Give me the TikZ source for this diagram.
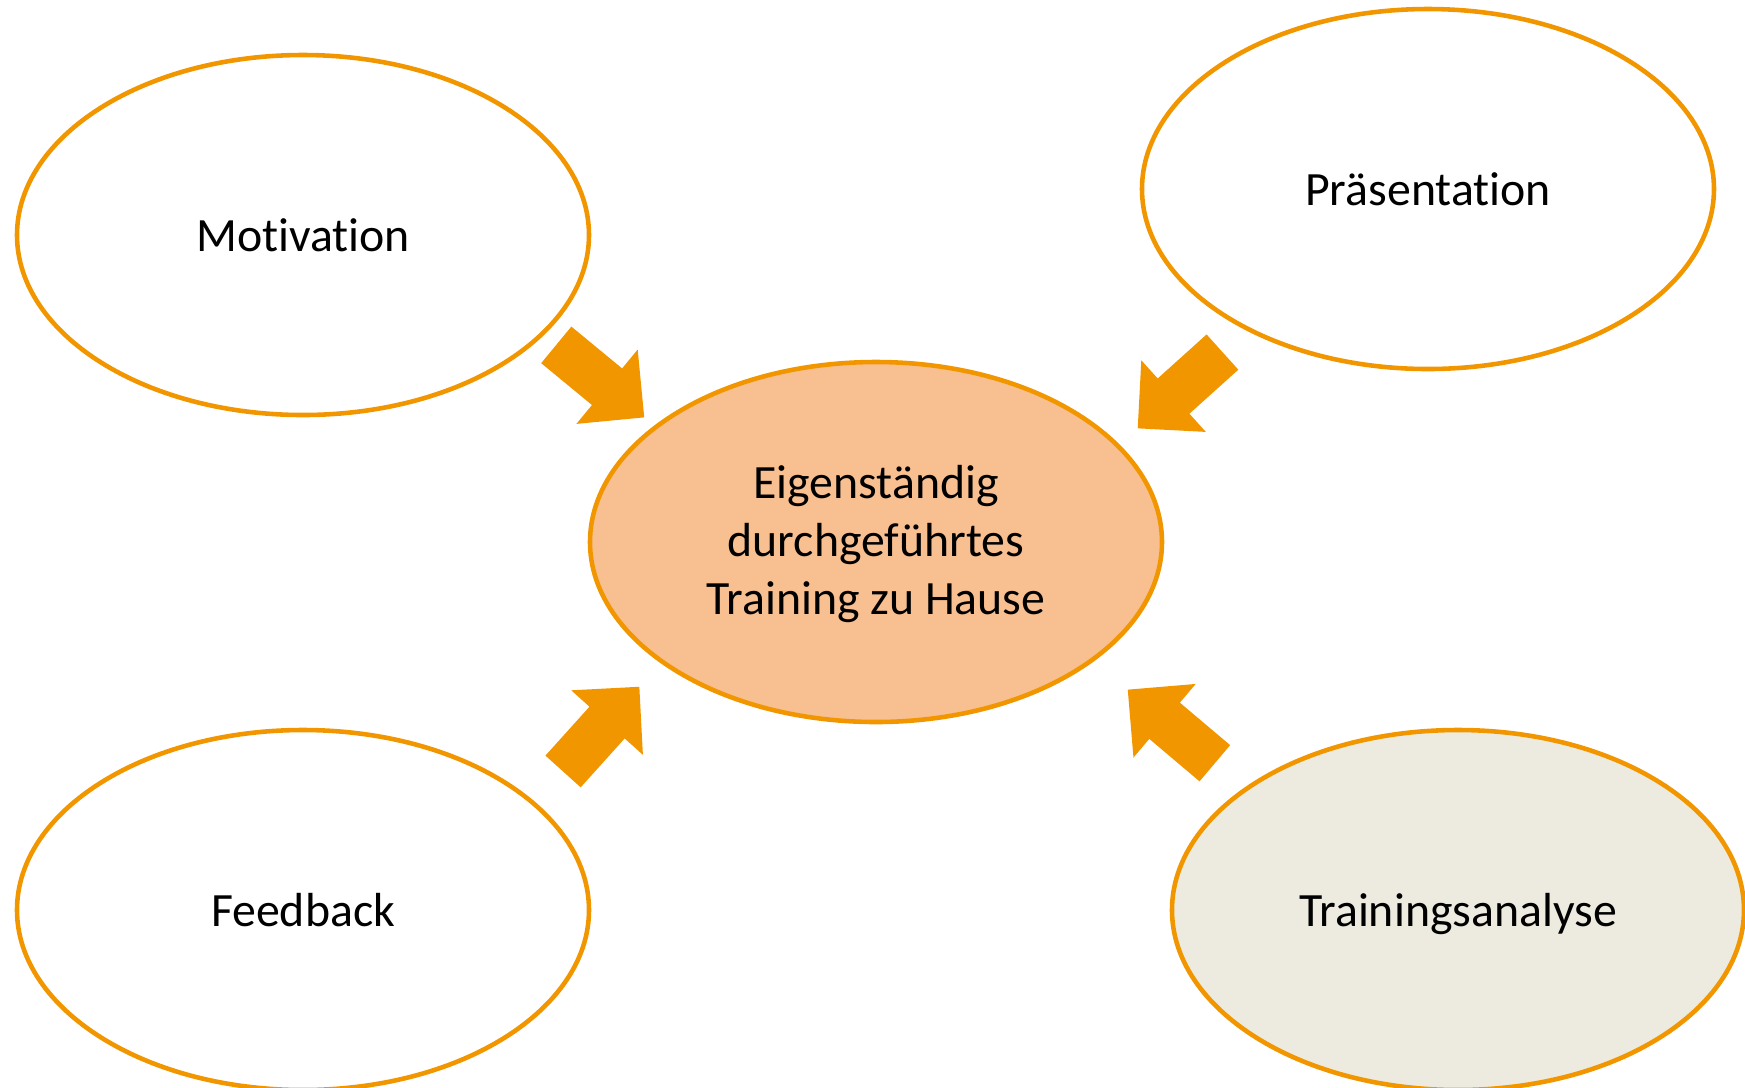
\documentclass[tikz,border=0pt]{standalone}
\usepackage{fontspec}
\setmainfont{Carlito}[Ligatures=NoCommon]
\definecolor{line_c}{RGB}{242,150,0}
\definecolor{core_c}{RGB}{248,192,145}
\definecolor{tan_c}{RGB}{237,235,224}
\usetikzlibrary{arrows.meta,
                positioning,
                shapes,
                shapes.geometric,
                shapes.arrows}

\begin{document}
\begin{tikzpicture}[
			topic/.style = {ellipse, draw=line_c, line width=1.3pt,
			                minimum width=5.72cm, minimum height=3.6cm,
			                inner sep=0pt, align=center, text depth=0pt,
			                font=\fontsize{13.6}{16.6}\selectfont},
			push/.style = {single arrow, fill=line_c, draw=none,
			               inner xsep=0pt, inner ysep=0.23cm,
			               minimum height=1.14cm,
			               single arrow head extend=0.245cm, anchor=tip},
			]
			\useasboundingbox (0,0) rectangle (17.45,-10.87);
			% ellipses
			\node[topic] (mot) at (3.03,-2.35) {Motivation};
			\node[topic] (pra) at (14.28,-1.89) {Präsentation};
			\node[topic, fill=core_c] (ctr) at (8.76,-5.42) {};
			\node[align=center, font=\fontsize{13.6}{16.6}\selectfont]
			     (ctrtext) at (8.76,-5.44)
			     {Eigenständig\\durchgeführtes\\Training zu Hause};
			\node[topic] (fee) at (3.03,-9.10) {Feedback};
			\node[topic, fill=tan_c] (tra) at (14.58,-9.10) {Trainingsanalyse};
			% arrows
			\node[push, rotate=-39.5] (a1) at (6.45,-4.18) {};
			\node[push, rotate=-138] (a2) at (11.37,-4.29) {};
			\node[push, rotate=48] (a3) at (6.40,-6.86) {};
			\node[push, rotate=139.8] (a4) at (11.27,-6.89) {};
		\end{tikzpicture}
\end{document}
